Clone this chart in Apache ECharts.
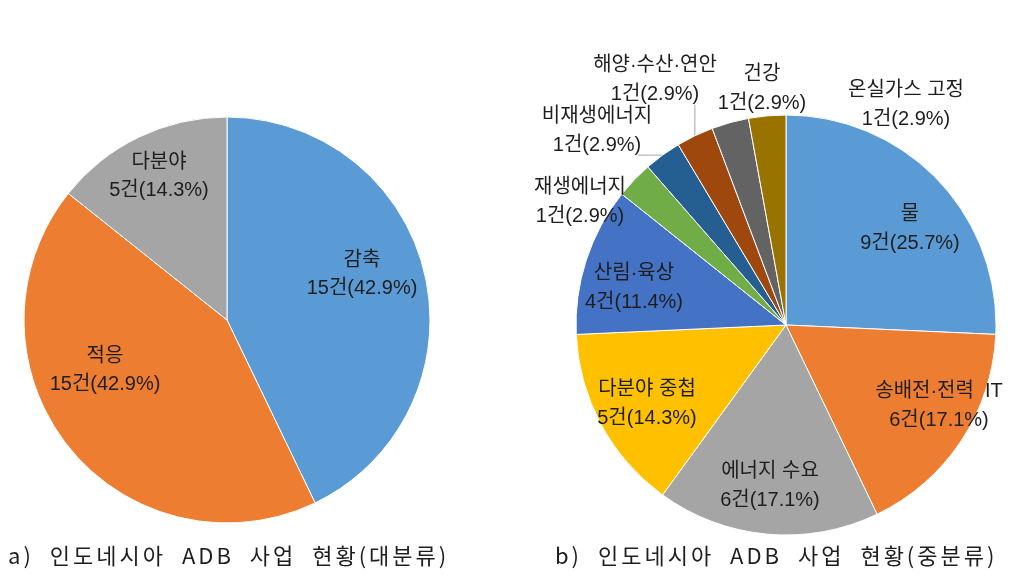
<!DOCTYPE html>
<html>
<head>
<meta charset="utf-8">
<script src="https://cdn.jsdelivr.net/npm/echarts@6/dist/echarts.min.js"></script>
<style>
  body { margin: 0; background: #fff; }
  #wrap { position: relative; width: 1020px; height: 584px; }
  #chart { width: 1020px; height: 584px; }
  .caption {
    position: absolute; top: 542px; font: 22px/24px 'Noto Sans CJK KR', sans-serif;
    color: #1e1e1e; letter-spacing: 3px; word-spacing: 8px; white-space: nowrap;
  }
</style>
</head>
<body>
<div id="wrap">
  <div id="chart"></div>
  <div class="caption" id="capA" style="left:8px"></div>
  <div class="caption" id="capB" style="left:555px"></div>
</div>
<script>
// 대분류
const majorNames = ['감축', '적응', '다분야'];
const majorCounts = [15, 15, 5];
// 중분류
const midNames = ['물', '송배전·전력  IT', '에너지 수요', '다분야 중첩', '산림·육상',
  '재생에너지', '비재생에너지', '해양·수산·연안', '건강', '온실가스 고정'];
const midCounts = [9, 6, 6, 5, 4, 1, 1, 1, 1, 1];
const captions = ['a) 인도네시아 ADB 사업 현황(대분류)', 'b) 인도네시아 ADB 사업 현황(중분류)'];

const majorColors = ['#5b9bd5', '#ed7d31', '#a5a5a5'];
const midColors = ['#5b9bd5', '#ed7d31', '#a5a5a5', '#ffc000', '#4472c4',
  '#70ad47', '#255e91', '#9e480e', '#636363', '#997300'];

// label block centres (Excel style placement)
const majorLabelPos = { '감축': [362, 274], '적응': [105, 370], '다분야': [159, 176] };
const midLabelPos = {
  '물': [910, 229], '송배전·전력  IT': [939, 406], '에너지 수요': [770, 486],
  '다분야 중첩': [647, 404], '산림·육상': [634, 288], '재생에너지': [580, 202],
  '비재생에너지': [597, 131], '해양·수산·연안': [655, 80], '건강': [762, 89],
  '온실가스 고정': [906, 105]
};
const lineNames = ['비재생에너지', '해양·수산·연안'];

const fontFamily = "'Liberation Sans', 'Noto Sans CJK KR', sans-serif";

document.getElementById('capA').textContent = captions[0];
document.getElementById('capB').textContent = captions[1];

function pctLabel(counts) {
  const total = counts.reduce((a, b) => a + b, 0);
  return (p) => p.name + '\n' + p.value + '건(' + (p.value / total * 100).toFixed(1) + '%)';
}

function placeLabels(names, counts, pos, cx, cy, r) {
  const total = counts.reduce((a, b) => a + b, 0);
  return function (p) {
    const name = names[p.dataIndex];
    const [x, y] = pos[name];
    const out = { x: x, y: y, align: 'center', verticalAlign: 'middle' };
    if (lineNames.includes(name)) {
      let before = 0;
      for (let i = 0; i < p.dataIndex; i++) before += counts[i];
      const mid = (before + counts[p.dataIndex] / 2) / total * Math.PI * 2;
      const ex = cx + r * Math.sin(mid);
      const ey = cy - r * Math.cos(mid);
      const w = p.labelRect.width, h = p.labelRect.height;
      // start a bit inside the label box, like Excel does
      const sx = Math.min(Math.max(ex, x - w / 2), x + w / 2 - 14);
      const sy = Math.min(Math.max(ey, y - h / 2), y + h / 2 - 4);
      out.labelLinePoints = [[sx, sy], [(sx + ex) / 2, (sy + ey) / 2], [ex, ey]];
    }
    return out;
  };
}

function pieSeries(names, counts, colors, pos, cx, cy, r, lh) {
  return {
    type: 'pie',
    center: [cx, cy],
    radius: r,
    startAngle: 90,
    clockwise: true,
    avoidLabelOverlap: false,
    animation: false,
    silent: true,
    itemStyle: { borderColor: '#ffffff', borderWidth: 1 },
    label: {
      show: true, position: 'outside', overflow: 'none',
      formatter: pctLabel(counts),
      color: '#1e1e1e', fontSize: 20, lineHeight: lh, fontFamily: fontFamily
    },
    labelLine: { show: false, lineStyle: { color: '#a6a6a6', width: 1 } },
    labelLayout: placeLabels(names, counts, pos, cx, cy, r),
    data: names.map((n, i) => ({
      name: n,
      value: counts[i],
      itemStyle: { color: colors[i] },
      labelLine: lineNames.includes(n) ? { show: true } : undefined
    }))
  };
}

const chart = echarts.init(document.getElementById('chart'));
chart.setOption({
  backgroundColor: '#ffffff',
  series: [
    pieSeries(majorNames, majorCounts, majorColors, majorLabelPos, 227, 320, 203, 28),
    pieSeries(midNames, midCounts, midColors, midLabelPos, 786, 325, 210, 29)
  ]
});
</script>
</body>
</html>
